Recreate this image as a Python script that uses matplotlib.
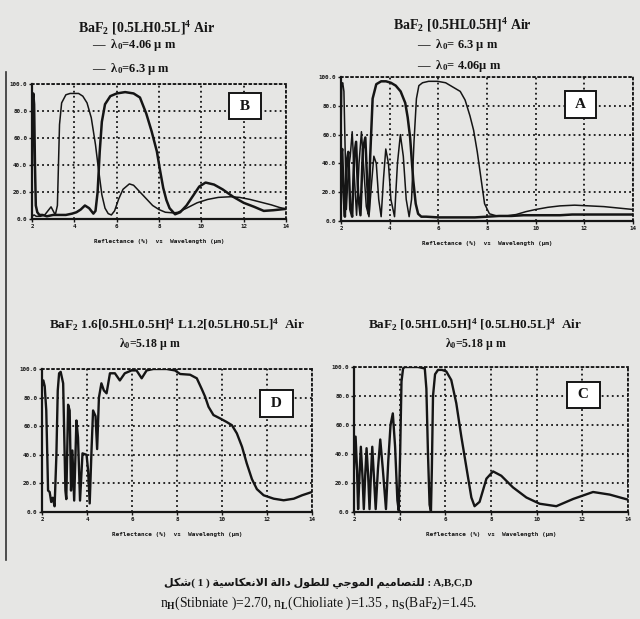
import numpy as np
import matplotlib.pyplot as plt
from matplotlib.lines import Line2D

# ================ fonts ================
plt.rcParams['mathtext.fontset'] = 'custom'
plt.rcParams['mathtext.rm'] = 'Liberation Serif:bold'
plt.rcParams['mathtext.it'] = 'Liberation Serif:italic:bold'
plt.rcParams['mathtext.bf'] = 'Liberation Serif:bold'

# ================ data ================
X_TICKS = [2, 4, 6, 8, 10, 12, 14]
X_TICK_LABELS = ['2', '4', '6', '8', '10', '12', '14']
Y_TICKS = [0, 20, 40, 60, 80, 100]
Y_TICK_LABELS = ['0.0', '20.0', '40.0', '60.0', '80.0', '100.0']
XLABEL = 'Reflectance (%)  vs  Wavelength (\u00b5m)'

# B : BaF2 [0.5LH0.5L]^4 Air
B_X_406 = [2.0, 2.1, 2.2, 2.4, 2.6, 2.8, 2.9, 3.0, 3.1, 3.2, 3.25, 3.3, 3.4, 3.6, 3.8,
           4.0, 4.2, 4.4, 4.6, 4.8, 5.0, 5.1, 5.2, 5.3, 5.45, 5.6, 5.75, 5.9, 6.1, 6.3,
           6.6, 6.8, 7.1, 7.4, 7.7, 8.0, 8.3, 8.7, 8.9, 9.3, 9.8, 10.3, 10.8, 11.4, 11.8,
           12.3, 12.8, 13.3, 13.7, 14.0]
B_R_406 = [2, 3, 2, 2, 3, 7, 9, 6, 3, 10, 40, 70, 86, 92, 93,
           93, 93, 91, 86, 75, 55, 42, 30, 18, 8, 4, 3, 6, 15, 22,
           26, 25, 20, 15, 10, 7, 5, 4.5, 5, 8, 12, 14.5, 16, 16.5, 16,
           14.5, 12.5, 10.5, 8.5, 7.5]
B_X_63 = [2.0, 2.03, 2.06, 2.1, 2.14, 2.18, 2.25, 2.35, 2.5, 2.7, 3.0, 3.3, 3.6, 3.9,
          4.1, 4.3, 4.5, 4.7, 4.9, 5.0, 5.1, 5.2, 5.3, 5.45, 5.7, 6.0, 6.4, 6.8, 7.1,
          7.4, 7.65, 7.9, 8.05, 8.2, 8.35, 8.5, 8.76, 9.0, 9.3, 9.6, 9.9, 10.2, 10.6,
          11.0, 11.5, 12.0, 12.5, 12.95, 13.4, 14.0]
B_R_63 = [40, 88, 93, 85, 40, 10, 5, 3, 3, 2, 3, 3, 3, 4,
          5, 7, 10, 8, 4, 6, 20, 50, 72, 85, 91, 93, 94, 93, 90,
          78, 65, 50, 36, 23, 14, 8, 3.5, 5, 10, 17, 24, 27, 25.5,
          22, 16.5, 12, 9, 6, 6.5, 7.5]

# A : BaF2 [0.5HL0.5H]^4 Air
A_X_63 = [2.0, 2.03, 2.07, 2.12, 2.17, 2.22, 2.3, 2.38, 2.46, 2.55, 2.64, 2.74, 2.84,
          2.94, 3.04, 3.15, 3.25, 3.35, 3.45, 3.55, 3.65, 3.75, 3.84, 3.95, 4.05, 4.2,
          4.32, 4.44, 4.56, 4.68, 4.8, 4.9, 5.0, 5.1, 5.2, 5.35, 5.6, 5.97, 6.3, 6.6,
          6.9, 7.1, 7.3, 7.45, 7.6, 7.75, 7.9, 8.1, 8.4, 8.8, 9.2, 9.6, 10.0, 10.5,
          11.0, 11.6, 12.2, 12.8, 13.4, 14.0]
A_R_63 = [60, 95, 96, 90, 50, 8, 35, 45, 62, 30, 4, 40, 62,
          35, 10, 3, 25, 45, 40, 15, 3, 30, 50, 40, 15, 3,
          40, 60, 45, 15, 3, 15, 55, 85, 94, 96, 97, 97, 96, 93,
          90, 84, 73, 63, 48, 30, 12, 5, 3.5, 3.5, 4.5, 6.5, 8, 9.5,
          10.5, 11, 10.5, 10, 9, 8]
A_X_406 = [2.0, 2.05, 2.1, 2.16, 2.22, 2.3, 2.38, 2.46, 2.54, 2.62, 2.7, 2.8, 2.9, 3.0,
           3.08, 3.14, 3.2, 3.3, 3.45, 3.65, 3.85, 4.05, 4.25, 4.45, 4.64, 4.74, 4.84,
           4.97, 5.07, 5.17, 5.3, 5.5, 6.0, 6.5, 7.0, 7.5, 8.0, 8.5, 9.0, 9.5, 10.0,
           10.5, 11.0, 11.5, 12.0, 12.5, 13.0, 13.5, 14.0]
A_R_406 = [45, 50, 20, 3, 40, 48, 8, 3, 45, 55, 20, 4, 50, 58,
           25, 5, 45, 85, 95, 97, 97, 96, 94, 90, 82, 72, 58,
           28, 12, 5, 3, 3, 2.5, 2.5, 2.5, 2.5, 3, 3.5, 3.5, 4, 4,
           4, 4, 4.5, 4.5, 4.5, 4.5, 4.5, 4.5]

# D : BaF2 1.6[0.5HL0.5H]^4 L1.2[0.5LH0.5L]^4 Air
D_X = [2.0, 2.06, 2.12, 2.19, 2.27, 2.34, 2.41, 2.48, 2.56, 2.64, 2.7, 2.76, 2.83, 2.94,
       3.04, 3.08, 3.16, 3.23, 3.29, 3.35, 3.43, 3.53, 3.6, 3.69, 3.8, 3.98, 4.05, 4.12,
       4.2, 4.27, 4.38, 4.45, 4.53, 4.64, 4.75, 4.87, 5.02, 5.24, 5.46, 5.68, 5.98, 6.2,
       6.43, 6.65, 6.95, 7.54, 7.91, 8.14, 8.58, 8.88, 9.1, 9.25, 9.4, 9.62, 9.92, 10.2,
       10.44, 10.66, 10.89, 11.1, 11.33, 11.55, 11.85, 12.3, 12.74, 13.19, 13.56, 14.0]
D_R = [88, 92, 88, 71, 15, 14, 7, 10, 4, 40, 85, 97, 98, 90,
       15, 9, 75, 71, 15, 43, 8, 64, 52, 8, 41, 40, 29, 6,
       43, 71, 67, 44, 80, 90, 85, 83, 97, 97, 92, 97, 99, 99,
       93.5, 99, 100, 100, 99, 96.5, 96, 93.5, 86, 80.6, 73.6, 67.8, 65.4, 63,
       60.7, 55, 45.6, 34, 23, 16, 11.7, 9.3, 8.2, 9.3, 11.7, 14]

# C : BaF2 [0.5HL0.5H]^4 [0.5LH0.5L]^4 Air
C_X = [2.0, 2.07, 2.13, 2.18, 2.24, 2.3, 2.37, 2.43, 2.49, 2.55, 2.62, 2.68, 2.74, 2.8,
       2.87, 2.95, 3.05, 3.15, 3.26, 3.4, 3.5, 3.6, 3.7, 3.8, 3.9, 3.96, 4.02, 4.08,
       4.15, 4.22, 4.5, 4.8, 5.1, 5.17, 5.24, 5.31, 5.37, 5.41, 5.46, 5.55, 5.68, 5.85,
       6.04, 6.26, 6.48, 6.7, 6.92, 7.14, 7.28, 7.5, 7.8, 8.09, 8.45, 8.96, 9.55, 10.13,
       10.86, 11.6, 12.47, 13.2, 14.0]
C_R = [30, 52, 30, 2, 25, 45, 25, 2, 25, 44, 25, 2, 25, 45,
       25, 2, 30, 50, 30, 2, 35, 60, 68, 45, 8, 1, 40, 90,
       99, 100, 100, 100, 99, 85, 40, 5, 0.5, 30, 80, 95, 98, 98,
       97, 91, 75, 52, 31, 10, 4, 7, 23, 28, 25, 17, 10, 5.7,
       4, 9, 13.8, 12, 8.5]

# ================ texts ================
TITLE_B = 'BaF$_2$ [0.5LH0.5L]$^4$ Air'
LEG_B = ['\u2014  \u03bb$_0$=4.06 \u00b5 m', '\u2014  \u03bb$_0$=6.3 \u00b5 m']
TITLE_A = 'BaF$_2$ [0.5HL0.5H]$^4$ Air'
LEG_A = ['\u2014  \u03bb$_0$= 6.3 \u00b5 m', '\u2014  \u03bb$_0$= 4.06\u00b5 m']
TITLE_D = 'BaF$_2$ 1.6[0.5HL0.5H]$^4$ L1.2[0.5LH0.5L]$^4$  Air'
TITLE_C = 'BaF$_2$ [0.5HL0.5H]$^4$ [0.5LH0.5L]$^4$  Air'
LAMBDA_518 = '\u03bb$_0$=5.18 \u00b5 m'
CAP_AR_HEAD = 'شكل'
CAP_AR_WORDS = ['الانعكاسية', 'دالة', 'للطول', 'الموجي', 'للتصاميم']
CAP_LINE2 = ('n$_{\\rm H}$(Stibniate )=2.70, n$_{\\rm L}$(Chioliate )=1.35 , '
             'n$_{\\rm S}$(BaF$_2$)=1.45.')

# ================ style ================
W, H = 640, 619
PAGE = '#e6e6e4'
INK = '#151515'
DOT = (0, (1.0, 1.8))

# Arabic presentation forms: isolated, final, initial, medial
FORMS = {
    'ا': ('\ufe8d', '\ufe8e', None, None),
    'ة': ('\ufe93', '\ufe94', None, None),
    'ت': ('\ufe95', '\ufe96', '\ufe97', '\ufe98'),
    'ج': ('\ufe9d', '\ufe9e', '\ufe9f', '\ufea0'),
    'د': ('\ufea9', '\ufeaa', None, None),
    'س': ('\ufeb1', '\ufeb2', '\ufeb3', '\ufeb4'),
    'ش': ('\ufeb5', '\ufeb6', '\ufeb7', '\ufeb8'),
    'ص': ('\ufeb9', '\ufeba', '\ufebb', '\ufebc'),
    'ط': ('\ufec1', '\ufec2', '\ufec3', '\ufec4'),
    'ع': ('\ufec9', '\ufeca', '\ufecb', '\ufecc'),
    'ك': ('\ufed9', '\ufeda', '\ufedb', '\ufedc'),
    'ل': ('\ufedd', '\ufede', '\ufedf', '\ufee0'),
    'م': ('\ufee1', '\ufee2', '\ufee3', '\ufee4'),
    'ن': ('\ufee5', '\ufee6', '\ufee7', '\ufee8'),
    'و': ('\ufeed', '\ufeee', None, None),
    'ي': ('\ufef1', '\ufef2', '\ufef3', '\ufef4'),
    'لا': ('\ufefb', '\ufefc', None, None),
}


def shape_word(word):
    # lam + alef become one ligature
    units = []
    i = 0
    while i < len(word):
        if word[i] == 'ل' and i + 1 < len(word) and word[i + 1] == 'ا':
            units.append('لا')
            i += 2
        else:
            units.append(word[i])
            i += 1
    out = []
    for k, u in enumerate(units):
        if u not in FORMS:
            out.append(u)
            continue
        iso, fin, ini, med = FORMS[u]
        prev = units[k - 1] if k > 0 else None
        nxt = units[k + 1] if k + 1 < len(units) else None
        join_prev = prev in FORMS and FORMS[prev][2] is not None
        join_next = nxt in FORMS and ini is not None
        if join_prev and join_next:
            out.append(med)
        elif join_prev:
            out.append(fin)
        elif join_next:
            out.append(ini)
        else:
            out.append(iso)
    return ''.join(reversed(out))


def fx(px):
    return px / W


def fy(py):
    return 1 - py / H


def make_axes(fig, left, top, right, bottom):
    ax = fig.add_axes([fx(left), fy(bottom), (right - left) / W, (bottom - top) / H])
    ax.set_facecolor('none')
    ax.set_xlim(2, 14)
    ax.set_ylim(0, 100)
    ax.set_xticks(X_TICKS)
    ax.set_xticklabels(X_TICK_LABELS)
    ax.set_yticks(Y_TICKS)
    ax.set_yticklabels(Y_TICK_LABELS)
    ax.set_axisbelow(True)
    ax.grid(True, color=INK, linestyle=DOT, linewidth=1.3)
    for s in ['left', 'bottom']:
        ax.spines[s].set_linewidth(1.6)
        ax.spines[s].set_color(INK)
    for s in ['top', 'right']:
        ax.spines[s].set_linestyle(DOT)
        ax.spines[s].set_linewidth(1.3)
        ax.spines[s].set_color(INK)
    ax.tick_params(length=2, width=1, pad=1.5, labelsize=4.2, colors=INK)
    for lab in ax.get_xticklabels() + ax.get_yticklabels():
        lab.set_fontfamily('DejaVu Sans Mono')
        lab.set_fontweight('bold')
    ax.set_xlabel(XLABEL, fontsize=4.3, family='DejaVu Sans Mono', fontweight='bold',
                  labelpad=7, color=INK)
    return ax


def box_label(ax, x, y, s):
    ax.text(x, y, ' ' + s + ' ', transform=ax.transAxes, ha='center', va='center',
            fontsize=11, fontweight='bold', family='Liberation Serif', color=INK,
            bbox=dict(boxstyle='square,pad=0.45', fc='white', ec=INK, lw=1.4), zorder=5)


def title(fig, x, y, s, ha='center', size=10):
    fig.text(fx(x), fy(y), s, ha=ha, va='center', fontsize=size, fontweight='bold',
             family='Liberation Serif', color=INK)


fig = plt.figure(figsize=(W / 100, H / 100), dpi=100, facecolor=PAGE)

# page border of the scan
fig.add_artist(Line2D([fx(6), fx(6)], [fy(72), fy(560)], color='#333333', lw=1.2))

# ---------- B ----------
ax = make_axes(fig, 32, 84, 286, 219)
ax.plot(B_X_406, B_R_406, color=INK, lw=1.1)
ax.plot(B_X_63, B_R_63, color=INK, lw=1.8)
box_label(ax, 0.839, 0.837, 'B')
title(fig, 147, 28, TITLE_B)
title(fig, 92, 45, LEG_B[0], ha='left', size=9)
title(fig, 92, 69, LEG_B[1], ha='left', size=9)

# ---------- A ----------
ax = make_axes(fig, 341, 77, 633, 221)
ax.plot(A_X_63, A_R_63, color=INK, lw=1.1)
ax.plot(A_X_406, A_R_406, color=INK, lw=1.8)
box_label(ax, 0.82, 0.809, 'A')
title(fig, 462, 25, TITLE_A)
title(fig, 417, 45, LEG_A[0], ha='left', size=9)
title(fig, 417, 66, LEG_A[1], ha='left', size=9)

# ---------- D ----------
ax = make_axes(fig, 42, 369, 312, 512)
ax.plot(D_X, D_R, color=INK, lw=1.7)
box_label(ax, 0.868, 0.759, 'D')
title(fig, 177, 325, TITLE_D, size=9.5)
title(fig, 150, 344, LAMBDA_518, size=8.5)

# ---------- C ----------
ax = make_axes(fig, 354, 367, 628, 512)
ax.plot(C_X, C_R, color=INK, lw=1.7)
box_label(ax, 0.838, 0.807, 'C')
title(fig, 475, 325, TITLE_C, size=9.5)
title(fig, 476, 344, LAMBDA_518, size=8.5)

# ---------- caption ----------
cap1 = (shape_word(CAP_AR_HEAD) + '( 1 ) ' + ' '.join(shape_word(w) for w in CAP_AR_WORDS)
        + ' : A,B,C,D')
fig.text(fx(318), fy(583), cap1, ha='center', va='center', fontsize=8, fontweight='bold',
         family=['Liberation Serif', 'DejaVu Sans'], color=INK)
fig.text(fx(319), fy(603), CAP_LINE2, ha='center', va='center', fontsize=9.8,
         family='Liberation Serif', color=INK)

fig.savefig('out.png', dpi=100, facecolor=PAGE)
